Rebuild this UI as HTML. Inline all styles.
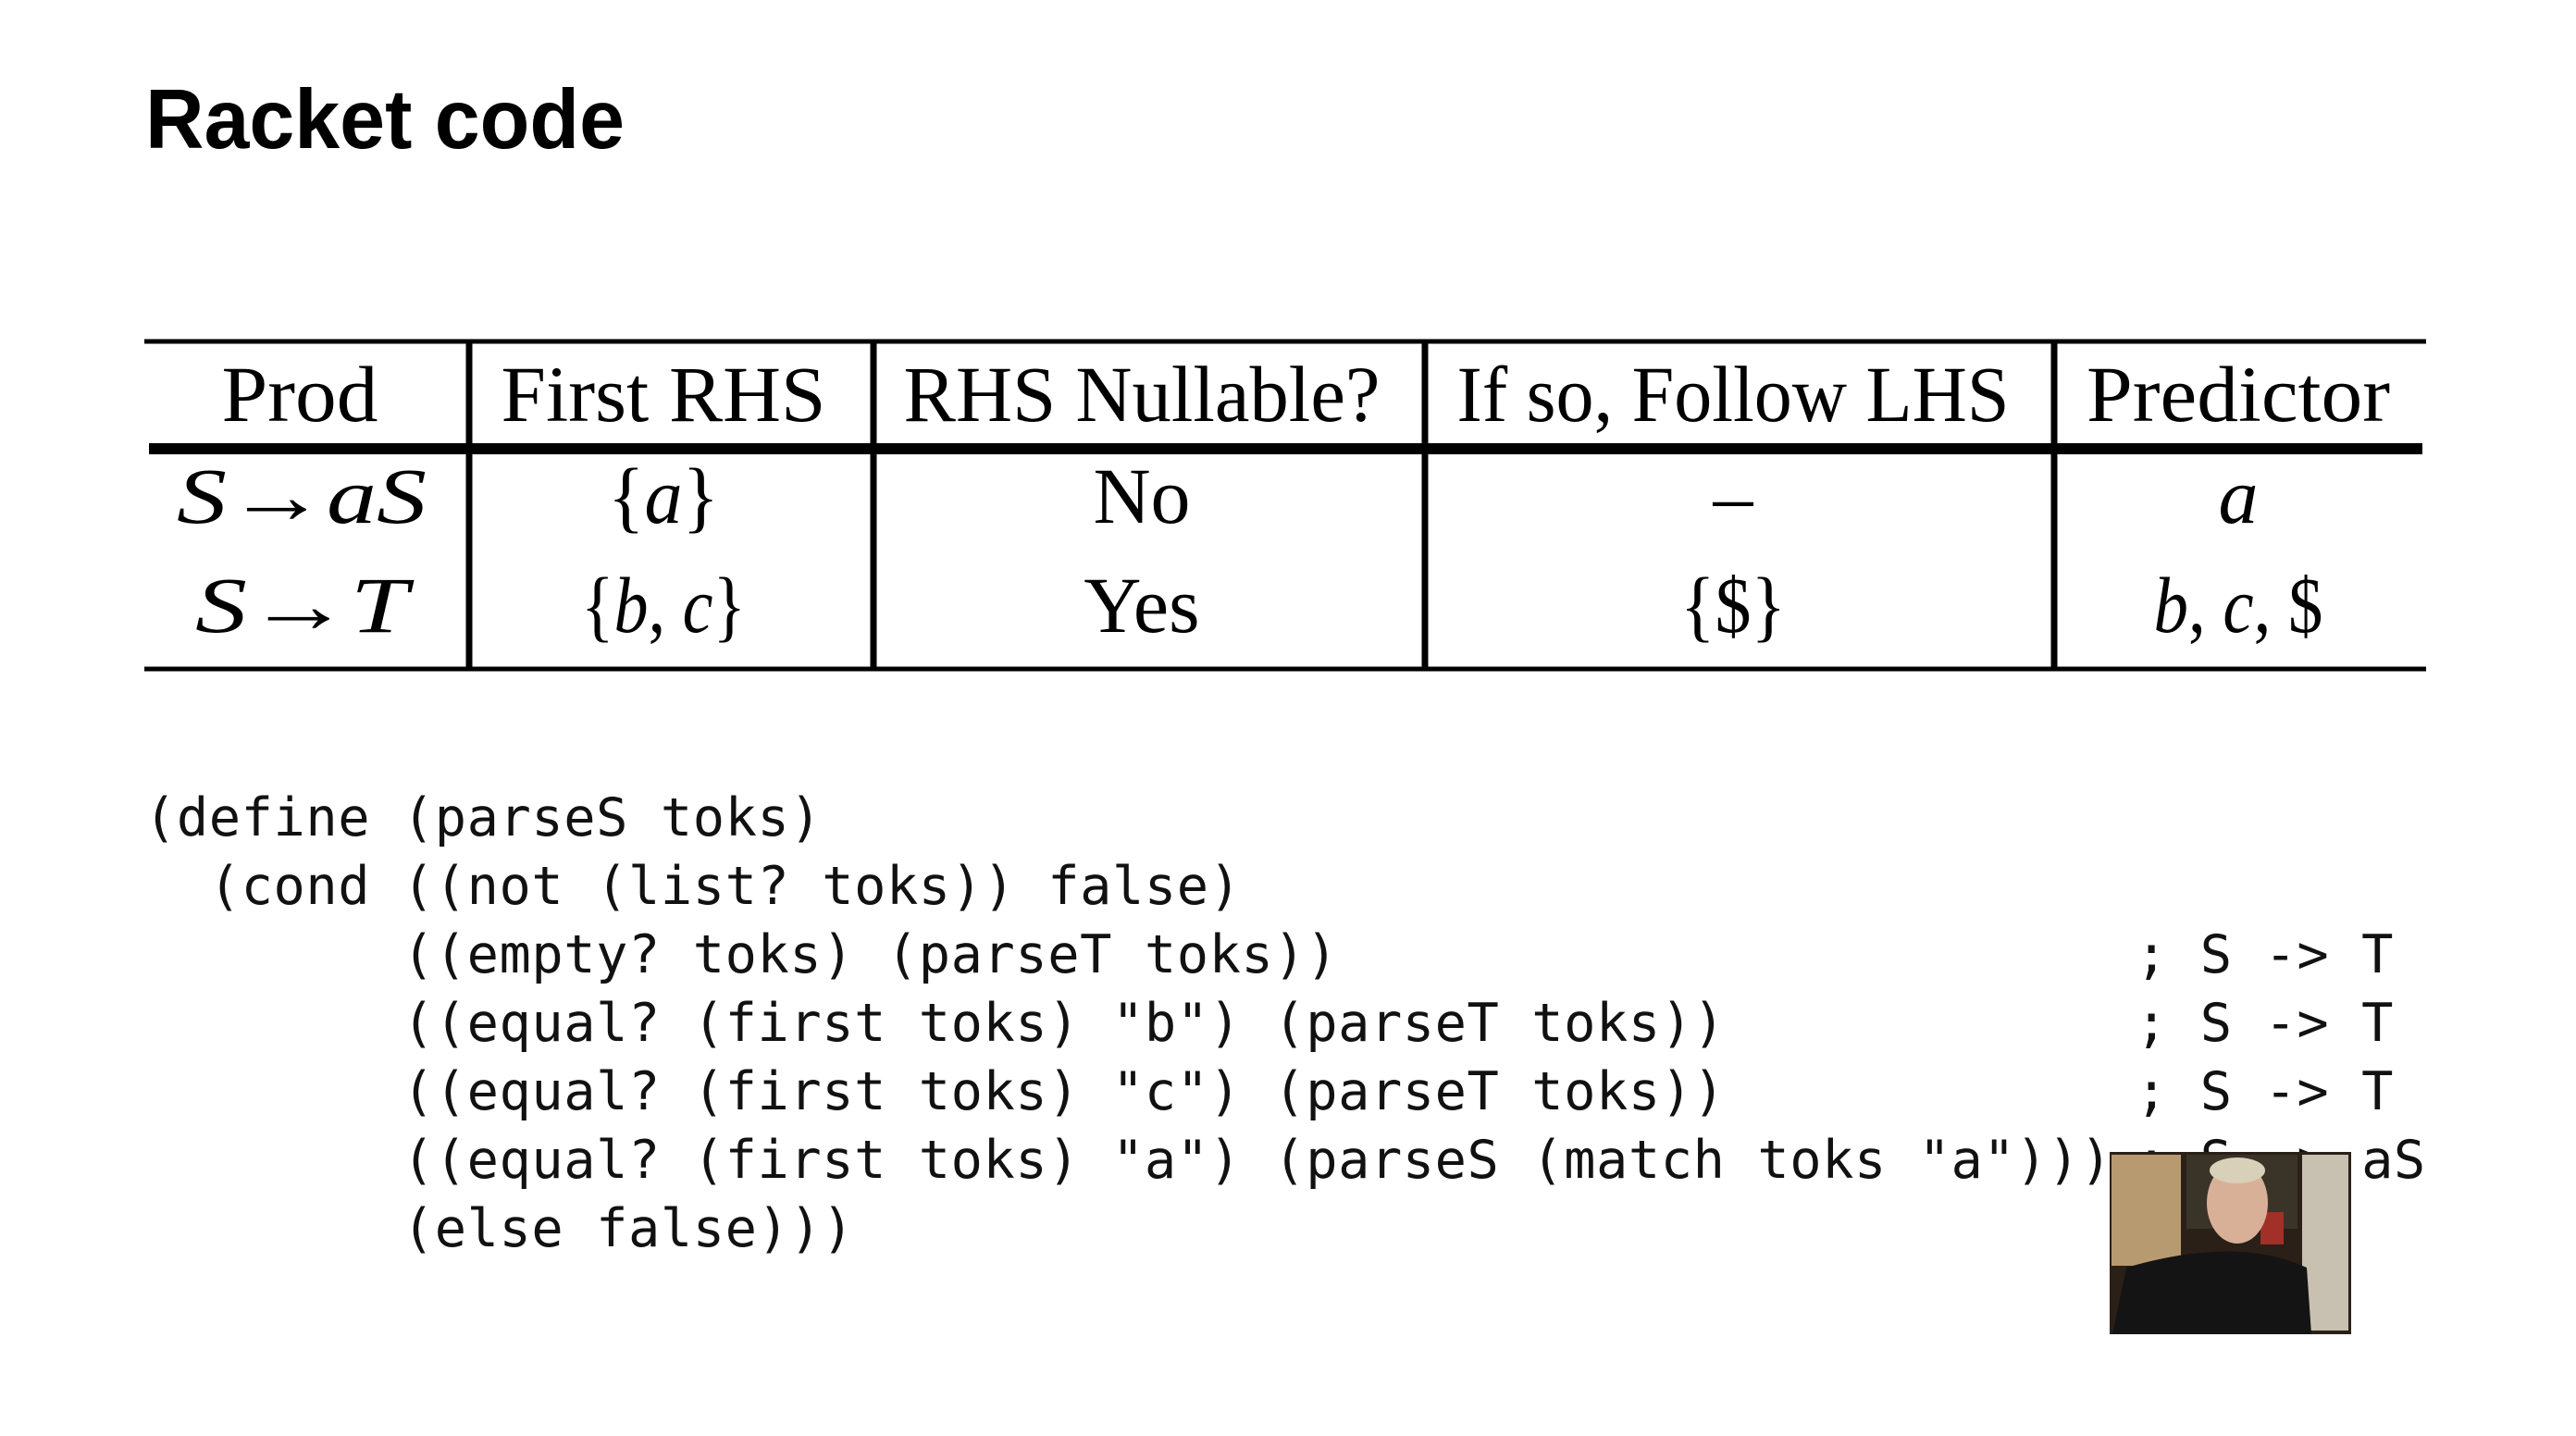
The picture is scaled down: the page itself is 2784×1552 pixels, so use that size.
<!DOCTYPE html>
<html><head><meta charset="utf-8"><style>
html,body{margin:0;padding:0;background:#fff;}
svg{display:block;}
.code text{white-space:pre;letter-spacing:0.55px;}
</style></head><body>
<svg width="2784" height="1552" viewBox="0 0 2784 1552" xmlns="http://www.w3.org/2000/svg">
<rect width="2784" height="1552" fill="#fff"/>
<text x="157" y="160" font-family="Liberation Sans, sans-serif" font-weight="bold" font-size="91" textLength="518" lengthAdjust="spacingAndGlyphs" fill="#000">Racket code</text>

<g stroke="#000" fill="none">
<line x1="156" y1="369" x2="2622" y2="369" stroke-width="5"/>
<line x1="161" y1="485" x2="2618" y2="485" stroke-width="12"/>
<line x1="156" y1="723" x2="2622" y2="723" stroke-width="5"/>
<line x1="507" y1="369" x2="507" y2="723" stroke-width="7"/>
<line x1="944" y1="369" x2="944" y2="723" stroke-width="7"/>
<line x1="1540" y1="369" x2="1540" y2="723" stroke-width="7"/>
<line x1="2220" y1="369" x2="2220" y2="723" stroke-width="7"/>
</g>

<g font-family="Liberation Serif, serif" font-size="86" fill="#000" text-anchor="middle">
<text x="324" y="455" textLength="169" lengthAdjust="spacingAndGlyphs">Prod</text>
<text x="717" y="455" textLength="351" lengthAdjust="spacingAndGlyphs">First RHS</text>
<text x="1234" y="455" textLength="515" lengthAdjust="spacingAndGlyphs">RHS Nullable?</text>
<text x="1873" y="455" textLength="597" lengthAdjust="spacingAndGlyphs">If so, Follow LHS</text>
<text x="2419" y="455" textLength="328" lengthAdjust="spacingAndGlyphs">Predictor</text>

<text x="326" y="565" textLength="270" lengthAdjust="spacingAndGlyphs"><tspan font-style="italic">S</tspan>→<tspan font-style="italic">aS</tspan></text>
<text x="717" y="565" textLength="120" lengthAdjust="spacingAndGlyphs">{<tspan font-style="italic">a</tspan>}</text>
<text x="1234" y="565">No</text>
<text x="1873" y="565">–</text>
<text x="2419" y="565" font-style="italic">a</text>

<text x="326" y="683" textLength="230" lengthAdjust="spacingAndGlyphs"><tspan font-style="italic">S</tspan>→<tspan font-style="italic">T</tspan></text>
<text x="717" y="683" textLength="178" lengthAdjust="spacingAndGlyphs">{<tspan font-style="italic">b</tspan>, <tspan font-style="italic">c</tspan>}</text>
<text x="1234" y="683">Yes</text>
<text x="1873" y="683" textLength="114" lengthAdjust="spacingAndGlyphs">{$}</text>
<text x="2419" y="683" textLength="183" lengthAdjust="spacingAndGlyphs"><tspan font-style="italic">b</tspan>, <tspan font-style="italic">c</tspan>, $</text>
</g>

<g class="code" font-family="DejaVu Sans Mono, Liberation Mono, monospace" font-size="57" fill="#111">
<text x="156" y="903">(define (parseS toks)</text>
<text x="156" y="977">  (cond ((not (list? toks)) false)</text>
<text x="156" y="1051">        ((empty? toks) (parseT toks))</text>
<text x="156" y="1125">        ((equal? (first toks) "b") (parseT toks))</text>
<text x="156" y="1199">        ((equal? (first toks) "c") (parseT toks))</text>
<text x="156" y="1273">        ((equal? (first toks) "a") (parseS (match toks "a")))</text>
<text x="156" y="1347">        (else false)))</text>
<text x="2308" y="1051">; S -&gt; T</text>
<text x="2308" y="1125">; S -&gt; T</text>
<text x="2308" y="1199">; S -&gt; T</text>
<text x="2308" y="1273">; S -&gt; aS</text>
</g>

<g>
<rect x="2280" y="1245" width="261" height="197" fill="#2a2018"/>
<rect x="2282" y="1248" width="75" height="120" fill="#b89a70"/>
<rect x="2363" y="1248" width="120" height="80" fill="#3a3428"/>
<rect x="2488" y="1248" width="50" height="190" fill="#c8c0b0"/>
<rect x="2443" y="1310" width="25" height="35" fill="#a03028"/>
<ellipse cx="2418" cy="1300" rx="33" ry="44" fill="#d8b098"/>
<ellipse cx="2418" cy="1265" rx="30" ry="14" fill="#d8d0b8"/>
<path d="M2283 1442 L2298 1370 Q2418 1335 2493 1370 L2498 1442 Z" fill="#141414"/>
</g>
</svg>
</body></html>
